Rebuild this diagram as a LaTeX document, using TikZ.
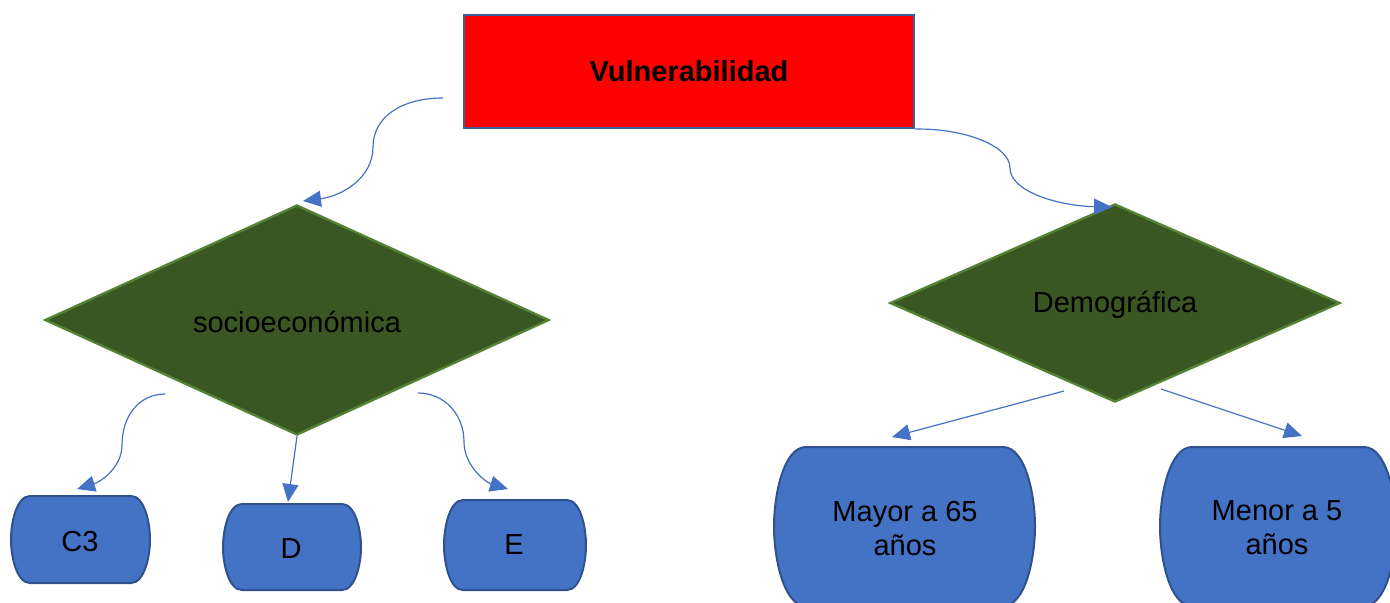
\documentclass[tikz,border=0pt]{standalone}
\usepackage{fontspec}
\setmainfont{Liberation Sans}
\usetikzlibrary{arrows.meta,shapes.geometric}
\definecolor{redfill}{HTML}{FF0000}
\definecolor{rectline}{HTML}{3A5F96}
\definecolor{dgreen}{HTML}{3A5623}
\definecolor{lgreen}{HTML}{548235}
\definecolor{bluefill}{HTML}{4472C4}
\definecolor{blueline}{HTML}{2F528F}
\definecolor{conncol}{HTML}{4472C4}
\newcommand\barrelshape[5]{%
\filldraw[boxshape] ({#1+#5},#2) -- ({#3-#5},#2)
 .. controls ({#3-0.3*#5},#2) and (#3,{#2+0.3*(#4-#2)}) .. (#3,{(#2+#4)/2})
 .. controls (#3,{#4-0.3*(#4-#2)}) and ({#3-0.3*#5},#4) .. ({#3-#5},#4)
 -- ({#1+#5},#4)
 .. controls ({#1+0.3*#5},#4) and (#1,{#4-0.3*(#4-#2)}) .. (#1,{(#2+#4)/2})
 .. controls (#1,{#2+0.3*(#4-#2)}) and ({#1+0.3*#5},#2) .. cycle;}
\begin{document}
\begin{tikzpicture}[x=0.5pt,y=-0.5pt,
  txt/.style={font=\fontsize{14.5pt}{17pt}\selectfont, text=black, align=center, inner sep=0pt},
  conn/.style={draw=conncol, line width=0.6pt, -{Triangle[length=9pt,width=8pt]}},
  toprect/.style={rectangle, draw=rectline, fill=redfill, line width=1.1pt, minimum width=225pt, minimum height=56.5pt, inner sep=0pt, font=\fontsize{14.5pt}{17pt}\selectfont\bfseries},
  decision/.style={diamond, draw=lgreen, fill=dgreen, line width=1.2pt, inner sep=0pt, font=\fontsize{14.5pt}{17pt}\selectfont},
  boxshape/.style={draw=blueline, fill=bluefill, line width=1pt}]
\useasboundingbox (0,0) rectangle (1390,602);
\clip (0,0) rectangle (1390,602);

% top box
\node[toprect] (vul) at (689,71.5) {Vulnerabilidad};

% diamonds
\node[decision, minimum width=252pt, minimum height=115pt] (soc) at (297,320) {};
\node[txt] (soctxt) at (297,322) {socioeconómica};
\node[decision, minimum width=225pt, minimum height=99pt] (dem) at (1115,303) {};
\node[txt] (demtxt) at (1115,305) {Demográfica};

% boxes
\barrelshape{11}{496}{150}{583}{19}
\node[txt] (c3) at (80,541) {C3};
\barrelshape{223}{504}{361}{590}{19}
\node[txt] (d) at (291,549) {D};
\barrelshape{444}{500}{586}{590}{19}
\node[txt] (e) at (514,545) {E};
\barrelshape{774}{447}{1035}{606}{32}
\node[txt] (may) at (905,528) {Mayor a 65\\años};
\barrelshape{1160}{447}{1396}{606}{32}
\node[txt] (men) at (1277,528) {Menor a 5\\años};

% connector end points
\coordinate (s1) at (443,98);
\coordinate (t1) at (303,201);
\coordinate (t2) at (1112,207);
\coordinate (s3) at (165,394);
\coordinate (t3) at (77,489);
\coordinate (t4) at (288,502);
\coordinate (s5) at (418,393);
\coordinate (t5) at (508,489);
\coordinate (s6) at (1064,391);
\coordinate (t6) at (892,437);
\coordinate (s7) at (1161,389);
\coordinate (t7) at (1302,436);

% connectors
\draw[conn] (s1) .. controls (400,98) and (373,118) .. (373,147)
  .. controls (373,178) and (342,196) .. (t1);
\draw[conn] (vul.south east) .. controls (962,128) and (1010,145) .. (1010,168)
  .. controls (1010,192) and (1060,206) .. (t2);
\draw[conn] (s3) .. controls (140,394) and (122,415) .. (122,445)
  .. controls (122,468) and (100,482) .. (t3);
\draw[conn] (soc.south) -- (t4);
\draw[conn] (s5) .. controls (445,393) and (464,415) .. (464,442)
  .. controls (464,465) and (485,482) .. (t5);
\draw[conn] (s6) -- (t6);
\draw[conn] (s7) -- (t7);
\end{tikzpicture}
\end{document}
